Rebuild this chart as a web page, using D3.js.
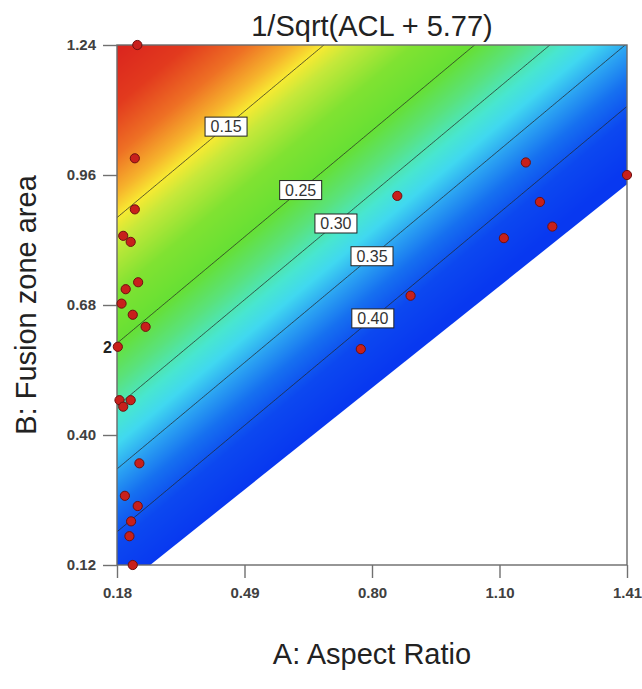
<!DOCTYPE html>
<html>
<head>
<meta charset="utf-8">
<script src="https://cdn.jsdelivr.net/npm/d3@7"></script>
<style>
  body { margin: 0; background: #fff; }
  svg { display: block; }
  text { font-family: "Liberation Sans", Arial, sans-serif; }
</style>
</head>
<body>
<svg id="chart" width="642" height="689"></svg>
<script>
// Axis ticks (design factor ranges)
const aspectTicks = [0.18, 0.4875, 0.795, 1.1025, 1.41];
const aspectTickLabels = ["0.18", "0.49", "0.80", "1.10", "1.41"];
const areaTicks = [0.12, 0.40, 0.68, 0.96, 1.24];
const areaTickLabels = ["0.12", "0.40", "0.68", "0.96", "1.24"];

// Feasible design region vertices (A: Aspect Ratio, B: Fusion zone area)
const regionA = [0.18, 0.26, 1.41, 1.41, 0.18];
const regionB = [0.12, 0.12, 0.94, 1.24, 1.24];

// Fitted model for 1/Sqrt(ACL + 5.77) = b0 + bA*A + bB*B
const modelCoef = [0.4212, 0.2752, -0.3694];

// Contour levels and the aspect ratio at which each level is labelled
const contourLevels = [0.15, 0.25, 0.30, 0.35, 0.40];
const labelAspect = [0.443, 0.623, 0.708, 0.795, 0.797];

// Design points
const runA = [0.229, 0.223, 0.223, 0.195, 0.213, 0.231, 0.201, 0.191, 0.218, 0.249,
              0.182, 0.186, 0.195, 0.213, 0.234, 0.199, 0.230, 0.214, 0.210, 0.218,
              0.856, 0.888, 0.768, 1.166, 1.200, 1.230, 1.113, 1.41];
const runB = [1.24, 0.996, 0.886, 0.829, 0.816, 0.729, 0.714, 0.683, 0.659, 0.633,
              0.590, 0.475, 0.461, 0.475, 0.339, 0.269, 0.247, 0.214, 0.182, 0.12,
              0.915, 0.700, 0.585, 0.987, 0.902, 0.849, 0.824, 0.96];
const runReps = [1, 1, 1, 1, 1, 1, 1, 1, 1, 1,
                 2, 1, 1, 1, 1, 1, 1, 1, 1, 1,
                 1, 1, 1, 1, 1, 1, 1, 1];

// Colour ramp: low response red, high response blue
const rampStops = [0.00, 0.06, 0.10, 0.13, 0.15, 0.17, 0.21, 0.25, 0.28, 0.31, 0.33, 0.355, 0.38, 0.41, 0.45];
const rampColors = ["#d81e1e", "#e23a1e", "#ee7024", "#f6b22c", "#f8ea32", "#c6e83a", "#80e232",
                    "#66e034", "#5ae27a", "#48e6d0", "#40d8f0", "#2aa0f2", "#1670f0", "#0c48f0", "#0838f0"];

const model = (a, b) => modelCoef[0] + modelCoef[1] * a + modelCoef[2] * b;

const svg = d3.select("#chart");
const plotL = 117, plotR = 627, plotT = 45, plotB = 565;

const x = d3.scaleLinear().domain([0.18, 1.41]).range([plotL, plotR]);
const y = d3.scaleLinear().domain([0.12, 1.24]).range([plotB, plotT]);
const color = d3.scaleLinear().domain(rampStops).range(rampColors).clamp(true);

// Region clip path
const regionPts = regionA.map((a, i) => [x(a), y(regionB[i])]);
svg.append("defs").append("clipPath").attr("id", "region")
  .append("polygon").attr("points", regionPts.map(p => p.join(",")).join(" "));

// Response surface shading rendered pixel by pixel
const pw = plotR - plotL, ph = plotB - plotT;
const canvas = document.createElement("canvas");
canvas.width = pw; canvas.height = ph;
const ctx = canvas.getContext("2d");
const img = ctx.createImageData(pw, ph);
for (let j = 0; j < ph; j++) {
  const b = y.invert(plotT + j + 0.5);
  for (let i = 0; i < pw; i++) {
    const a = x.invert(plotL + i + 0.5);
    const c = d3.rgb(color(model(a, b)));
    const k = (j * pw + i) * 4;
    img.data[k] = c.r; img.data[k + 1] = c.g; img.data[k + 2] = c.b; img.data[k + 3] = 255;
  }
}
ctx.putImageData(img, 0, 0);
svg.append("image")
  .attr("x", plotL).attr("y", plotT).attr("width", pw).attr("height", ph)
  .attr("preserveAspectRatio", "none")
  .attr("href", canvas.toDataURL())
  .attr("clip-path", "url(#region)");

// Contour lines from a sampled grid extending past the plot, clipped to the region
const nx = 320, ny = 320, a0 = 0.05, a1 = 1.55, b0 = -0.05, b1 = 1.40;
const dA = (a1 - a0) / (nx - 1), dB = (b1 - b0) / (ny - 1);
const grid = new Array(nx * ny);
for (let j = 0; j < ny; j++)
  for (let i = 0; i < nx; i++)
    grid[j * nx + i] = model(a0 + i * dA, b0 + j * dB);
const contours = d3.contours().size([nx, ny]).thresholds(contourLevels)(grid);
const proj = d3.geoTransform({
  point(cx, cy) { this.stream.point(x(a0 + (cx - 0.5) * dA), y(b0 + (cy - 0.5) * dB)); }
});
svg.append("g").attr("clip-path", "url(#region)")
  .selectAll("path").data(contours).join("path")
  .attr("d", d3.geoPath(proj))
  .attr("fill", "none")
  .attr("stroke", "#262626")
  .attr("stroke-opacity", 0.75)
  .attr("stroke-width", 1);

// Contour labels
const labels = svg.append("g");
contourLevels.forEach((lv, i) => {
  const a = labelAspect[i];
  const b = (lv - modelCoef[0] - modelCoef[1] * a) / modelCoef[2];
  const g = labels.append("g").attr("transform", `translate(${x(a)},${y(b)})`);
  g.append("rect").attr("x", -21).attr("y", -9.5).attr("width", 42).attr("height", 19)
    .attr("fill", "#fff").attr("stroke", "#222").attr("stroke-width", 1);
  g.append("text").attr("text-anchor", "middle").attr("dy", "0.36em")
    .attr("font-size", 16).attr("fill", "#333").text(d3.format(".2f")(lv));
});

// Plot frame
svg.append("rect").attr("x", plotL).attr("y", plotT).attr("width", pw).attr("height", ph)
  .attr("fill", "none").attr("stroke", "#6a6a6a").attr("stroke-width", 1.4);

// Axes
const xAxis = d3.axisBottom(x).tickValues(aspectTicks)
  .tickFormat((d, i) => aspectTickLabels[i]).tickSize(13).tickPadding(9);
const yAxis = d3.axisLeft(y).tickValues(areaTicks)
  .tickFormat((d, i) => areaTickLabels[i]).tickSize(14).tickPadding(7);
const gx = svg.append("g").attr("transform", `translate(0,${plotB})`).call(xAxis);
const gy = svg.append("g").attr("transform", `translate(${plotL},0)`).call(yAxis);
[gx, gy].forEach(g => {
  g.select(".domain").remove();
  g.selectAll(".tick line").attr("stroke", "#707070").attr("stroke-width", 1.4);
  g.selectAll(".tick text").attr("font-size", 15).attr("font-weight", "bold")
    .attr("fill", "#404040").attr("font-family", "'Liberation Sans', Arial, sans-serif");
});

// Design points
const pts = runA.map((a, i) => ({ a, b: runB[i], n: runReps[i] }));
svg.append("g").selectAll("circle").data(pts).join("circle")
  .attr("cx", d => x(d.a)).attr("cy", d => y(d.b)).attr("r", 4.6)
  .attr("fill", "#c8201c").attr("stroke", "#6e1010").attr("stroke-width", 1);
svg.append("g").selectAll("text").data(pts.filter(d => d.n > 1)).join("text")
  .attr("x", d => x(d.a) - 6).attr("y", d => y(d.b)).attr("dy", "0.36em")
  .attr("text-anchor", "end").attr("font-size", 16).attr("font-weight", "bold")
  .attr("fill", "#222").text(d => d.n);

// Titles
svg.append("text").attr("x", (plotL + plotR) / 2).attr("y", 36)
  .attr("text-anchor", "middle").attr("font-size", 29).attr("fill", "#222")
  .text("1/Sqrt(ACL + 5.77)");
svg.append("text").attr("x", (plotL + plotR) / 2).attr("y", 664)
  .attr("text-anchor", "middle").attr("font-size", 29).attr("fill", "#222")
  .text("A: Aspect Ratio");
svg.append("text").attr("transform", `translate(36,${(plotT + plotB) / 2}) rotate(-90)`)
  .attr("text-anchor", "middle").attr("font-size", 29).attr("fill", "#222")
  .text("B: Fusion zone area");
</script>
</body>
</html>
